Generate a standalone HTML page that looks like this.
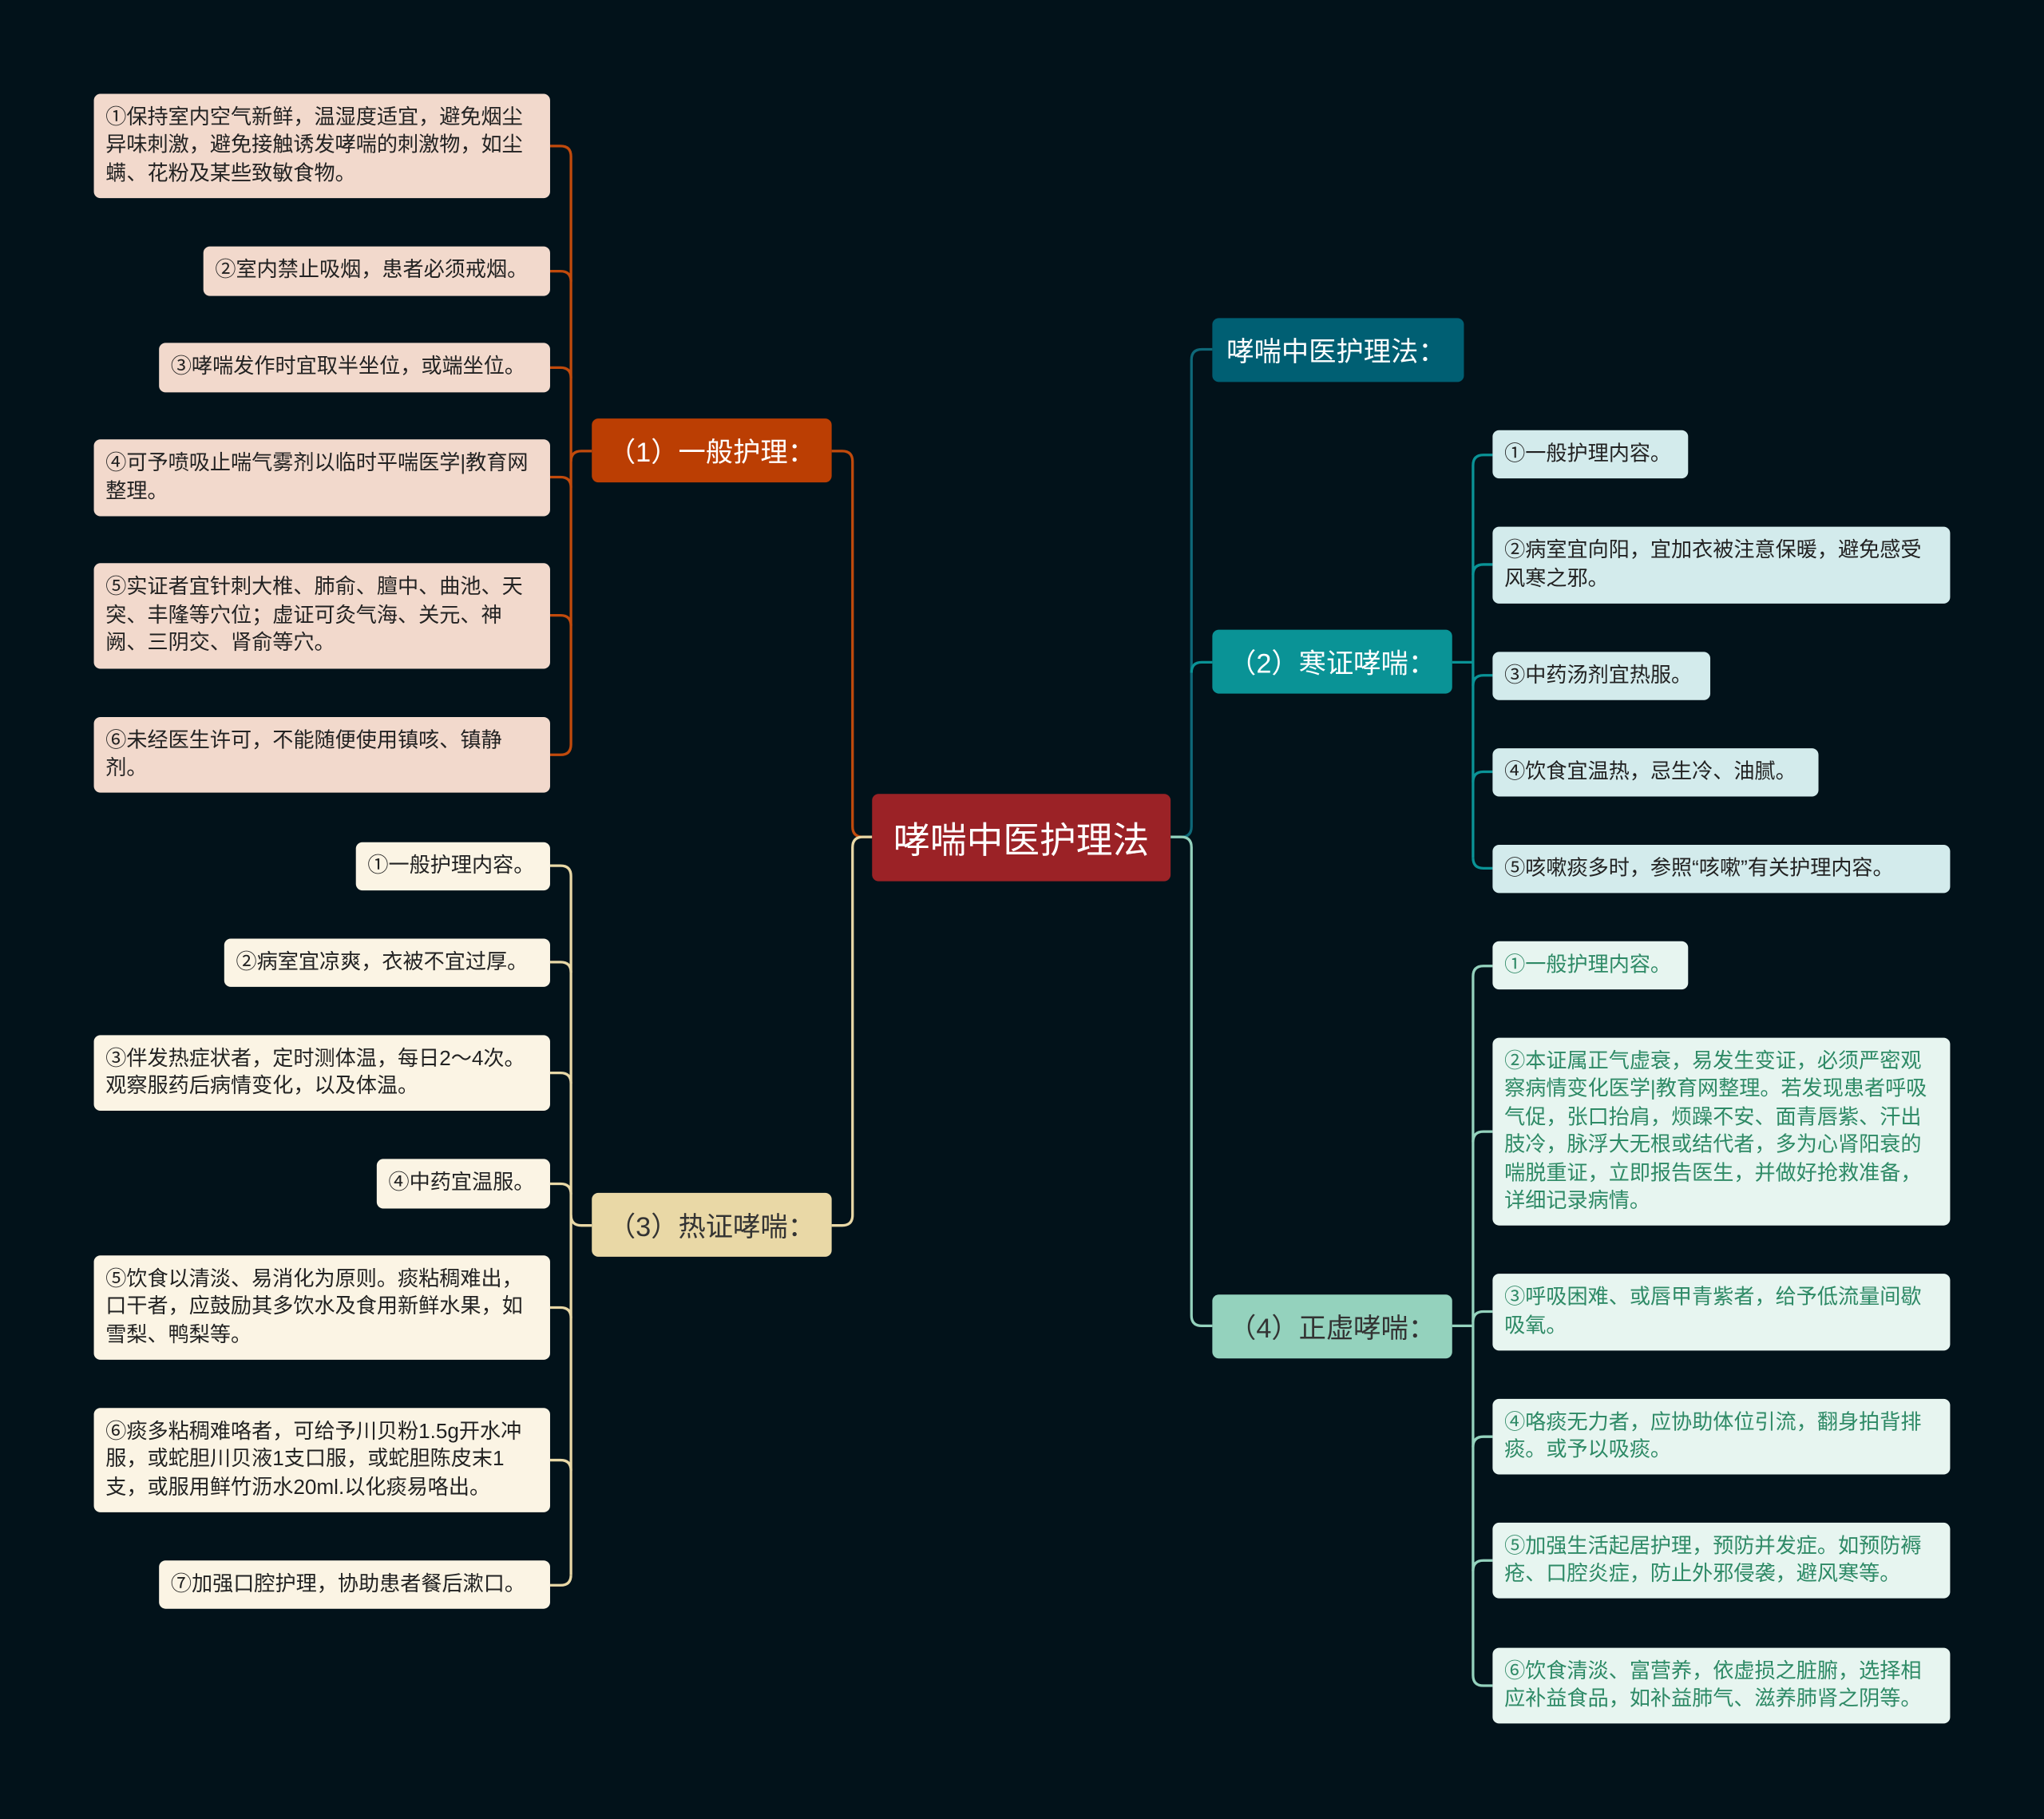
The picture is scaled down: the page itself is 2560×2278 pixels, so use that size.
<!DOCTYPE html>
<html><head><meta charset="utf-8">
<style>
html,body{margin:0;padding:0;background:#02121a;}
body{width:2560px;height:2277px;overflow:hidden;}
#s{position:absolute;left:0;top:0;width:1568px;height:1395px;transform:scale(1.63265);transform-origin:0 0;background:#02121a;font-family:"Liberation Sans","Noto Sans CJK SC",sans-serif;}
.n{position:absolute;box-sizing:border-box;border-radius:5px;display:flex;align-items:center;}
.leaf{font-size:16px;line-height:21.5px;padding:0 8px 0 9px;color:#222;}
.a{background:#f2d9cc;}
.c{background:#fbf4e4;}
.b{background:#d3ebec;}
.d{background:#e7f5f0;color:#2e8a66;}
.mid{justify-content:center;font-size:21px;}
svg{position:absolute;left:0;top:0;}
</style></head><body><div id="s">
<svg width="1568" height="1395" fill="none" stroke-width="2">
<g stroke="#c14a0c">
<path d="M454 346 H446 Q438 346 438 354 V571 Q438 579 430 579 H422"/>
<path d="M438 354 V120 Q438 112 430 112 H422"/>
<path d="M438 216 Q438 208 430 208 H422"/>
<path d="M438 290 Q438 282 430 282 H422"/>
<path d="M438 374 Q438 366 430 366 H422"/>
<path d="M438 480 Q438 472 430 472 H422"/>
<path d="M669 642 H662 Q654 642 654 634 V354 Q654 346 646 346 H638"/>
</g>
<g stroke="#e9d8a6">
<path d="M454 940 H446 Q438 940 438 932"/>
<path d="M438 1208 V672 Q438 664 430 664 H422"/>
<path d="M438 1208 Q438 1216 430 1216 H422"/>
<path d="M438 746 Q438 738 430 738 H422"/>
<path d="M438 831 Q438 823 430 823 H422"/>
<path d="M438 916 Q438 908 430 908 H422"/>
<path d="M438 1011 Q438 1003 430 1003 H422"/>
<path d="M438 1128 Q438 1120 430 1120 H422"/>
<path d="M669 642 H662 Q654 642 654 650 V932 Q654 940 646 940 H638"/>
</g>
<g stroke="#0e6878">
<path d="M898 642 H906 Q914 642 914 634 V276 Q914 268 922 268 H930"/>
</g>
<g stroke="#0a9396">
<path d="M914 516 Q914 508 922 508 H930"/>
<path d="M1114 508 H1130"/>
<path d="M1130 658 V357 Q1130 349 1138 349 H1145"/>
<path d="M1130 658 Q1130 666 1138 666 H1145"/>
<path d="M1130 441 Q1130 433 1138 433 H1145"/>
<path d="M1130 526 Q1130 518 1138 518 H1145"/>
<path d="M1130 600 Q1130 592 1138 592 H1145"/>
</g>
<g stroke="#94d2bd">
<path d="M898 642 H906 Q914 642 914 650 V1009 Q914 1017 922 1017 H930"/>
<path d="M1114 1017 H1130"/>
<path d="M1130 1285 V749 Q1130 741 1138 741 H1145"/>
<path d="M1130 1285 Q1130 1293 1138 1293 H1145"/>
<path d="M1130 876 Q1130 868 1138 868 H1145"/>
<path d="M1130 1014 Q1130 1006 1138 1006 H1145"/>
<path d="M1130 1110 Q1130 1102 1138 1102 H1145"/>
<path d="M1130 1205 Q1130 1197 1138 1197 H1145"/>
</g>
</svg>

<div class="n mid" style="left:669px;top:609px;width:229px;height:67px;background:#9b2226;color:#fff;font-size:28px;">哮喘中医护理法</div>
<div class="n mid" style="left:454px;top:321px;width:184px;height:49px;background:#bb3e03;color:#fff;">（1）一般护理：</div>
<div class="n mid" style="left:454px;top:915px;width:184px;height:49px;background:#e9d8a6;color:#333;">（3）热证哮喘：</div>
<div class="n" style="left:930px;top:244px;width:193px;height:49px;background:#005f73;color:#fff;font-size:21px;padding-left:11px;">哮喘中医护理法：</div>
<div class="n mid" style="left:930px;top:483px;width:184px;height:49px;background:#0a9396;color:#fff;">（2）寒证哮喘：</div>
<div class="n mid" style="left:930px;top:993px;width:184px;height:49px;background:#94d2bd;color:#333;">（4）正虚哮喘：</div>

<div class="n leaf a" style="left:72px;top:72px;width:350px;height:80px;">①保持室内空气新鲜，温湿度适宜，避免烟尘异味刺激，避免接触诱发哮喘的刺激物，如尘螨、花粉及某些致敏食物。</div>
<div class="n leaf a" style="left:156px;top:189px;width:266px;height:38px;">②室内禁止吸烟，患者必须戒烟。</div>
<div class="n leaf a" style="left:122px;top:263px;width:300px;height:38px;">③哮喘发作时宜取半坐位，或端坐位。</div>
<div class="n leaf a" style="left:72px;top:337px;width:350px;height:59px;">④可予喷吸止喘气雾剂以临时平喘医学|教育网整理。</div>
<div class="n leaf a" style="left:72px;top:432px;width:350px;height:81px;">⑤实证者宜针刺大椎、肺俞、膻中、曲池、天突、丰隆等穴位；虚证可灸气海、关元、神阙、三阴交、肾俞等穴。</div>
<div class="n leaf a" style="left:72px;top:550px;width:350px;height:58px;">⑥未经医生许可，不能随便使用镇咳、镇静剂。</div>

<div class="n leaf c" style="left:273px;top:646px;width:149px;height:37px;">①一般护理内容。</div>
<div class="n leaf c" style="left:172px;top:720px;width:250px;height:37px;">②病室宜凉爽，衣被不宜过厚。</div>
<div class="n leaf c" style="left:72px;top:794px;width:350px;height:58px;">③伴发热症状者，定时测体温，每日2～4次。观察服药后病情变化，以及体温。</div>
<div class="n leaf c" style="left:289px;top:889px;width:133px;height:38px;">④中药宜温服。</div>
<div class="n leaf c" style="left:72px;top:963px;width:350px;height:80px;">⑤饮食以清淡、易消化为原则。痰粘稠难出，口干者，应鼓励其多饮水及食用新鲜水果，如雪梨、鸭梨等。</div>
<div class="n leaf c" style="left:72px;top:1080px;width:350px;height:80px;">⑥痰多粘稠难咯者，可给予川贝粉1.5g开水冲服，或蛇胆川贝液1支口服，或蛇胆陈皮末1支，或服用鲜竹沥水20ml.以化痰易咯出。</div>
<div class="n leaf c" style="left:122px;top:1197px;width:300px;height:37px;">⑦加强口腔护理，协助患者餐后漱口。</div>

<div class="n leaf b" style="left:1145px;top:330px;width:150px;height:37px;">①一般护理内容。</div>
<div class="n leaf b" style="left:1145px;top:404px;width:351px;height:59px;">②病室宜向阳，宜加衣被注意保暖，避免感受风寒之邪。</div>
<div class="n leaf b" style="left:1145px;top:500px;width:167px;height:37px;">③中药汤剂宜热服。</div>
<div class="n leaf b" style="left:1145px;top:574px;width:250px;height:37px;">④饮食宜温热，忌生冷、油腻。</div>
<div class="n leaf b" style="left:1145px;top:648px;width:351px;height:37px;">⑤咳嗽痰多时，参照“咳嗽”有关护理内容。</div>

<div class="n leaf d" style="left:1145px;top:722px;width:150px;height:37px;">①一般护理内容。</div>
<div class="n leaf d" style="left:1145px;top:796px;width:351px;height:144px;">②本证属正气虚衰，易发生变证，必须严密观察病情变化医学|教育网整理。若发现患者呼吸气促，张口抬肩，烦躁不安、面青唇紫、汗出肢冷，脉浮大无根或结代者，多为心肾阳衰的喘脱重证，立即报告医生，并做好抢救准备，详细记录病情。</div>
<div class="n leaf d" style="left:1145px;top:977px;width:351px;height:59px;">③呼吸困难、或唇甲青紫者，给予低流量间歇吸氧。</div>
<div class="n leaf d" style="left:1145px;top:1073px;width:351px;height:58px;">④咯痰无力者，应协助体位引流，翻身拍背排痰。或予以吸痰。</div>
<div class="n leaf d" style="left:1145px;top:1168px;width:351px;height:58px;">⑤加强生活起居护理，预防并发症。如预防褥疮、口腔炎症，防止外邪侵袭，避风寒等。</div>
<div class="n leaf d" style="left:1145px;top:1264px;width:351px;height:58px;">⑥饮食清淡、富营养，依虚损之脏腑，选择相应补益食品，如补益肺气、滋养肺肾之阴等。</div>
</div></body></html>
